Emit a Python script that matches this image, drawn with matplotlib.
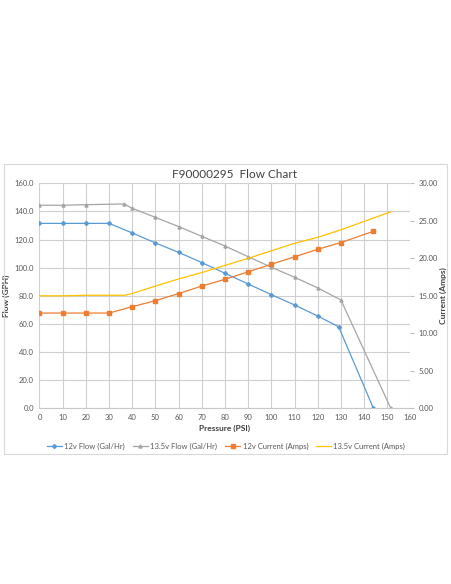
import matplotlib
matplotlib.use("Agg")
import matplotlib.pyplot as plt
from matplotlib.patches import Rectangle
from matplotlib.ticker import FormatStrFormatter, MultipleLocator

plt.rcParams['font.family'] = ['Lato', 'DejaVu Sans']

title = "F90000295  Flow Chart"

p12_flow = [0, 10, 20, 30, 40, 50, 60, 70, 80, 90, 100, 110, 120, 129, 144]
flow12 = [131.5, 131.5, 131.5, 131.5, 124.7, 117.6, 110.9, 103.6, 96.0, 88.4, 80.8, 73.5, 65.6, 58.0, 0.0]

p135_flow = [0, 10, 20, 36.5, 40, 50, 60, 70, 80, 90, 100, 110, 120, 130, 151.5]
flow135 = [144.4, 144.4, 144.8, 145.3, 142.2, 135.8, 129.2, 122.3, 115.4, 107.8, 100.3, 93.2, 85.6, 77.0, 0.0]

p12_cur = [0, 10, 20, 30, 40, 50, 60, 70, 80, 90, 100, 110, 120, 130, 144]
cur12 = [12.7, 12.7, 12.7, 12.7, 13.55, 14.35, 15.3, 16.3, 17.2, 18.2, 19.2, 20.2, 21.2, 22.1, 23.6]

p135_cur = [0, 10, 20, 36.5, 40, 50, 60, 70, 80, 90, 100, 110, 120, 130, 151.5]
cur135 = [15.0, 15.0, 15.07, 15.07, 15.3, 16.3, 17.25, 18.1, 19.05, 20.0, 21.0, 22.0, 22.8, 23.8, 26.2]

labels = ["12v Flow (Gal/Hr)", "13.5v Flow (Gal/Hr)", "12v Current (Amps)", "13.5v Current (Amps)"]
colors = ["#5B9BD5", "#A5A5A5", "#ED7D31", "#FFC000"]

fig = plt.figure(figsize=(4.52, 5.84), dpi=100)
fig.patches.append(Rectangle((4/452, 1-454/584), 443/452, 290/584, transform=fig.transFigure,
                             fill=False, edgecolor="#d9d9d9", linewidth=0.8))

ax = fig.add_axes([39.5/452, 1-408.3/584, 371/452, 225/584])
ax2 = ax.twinx()

tc = "#595959"
ax.set_xlim(0, 160)
ax.set_ylim(0, 160)
ax2.set_ylim(0, 30)
ax.xaxis.set_major_locator(MultipleLocator(10))
ax.yaxis.set_major_locator(MultipleLocator(20))
ax2.yaxis.set_major_locator(MultipleLocator(5))
ax.yaxis.set_major_formatter(FormatStrFormatter("%.1f"))
ax2.yaxis.set_major_formatter(FormatStrFormatter("%.2f"))
ax.grid(True, color="#d0d0d0", linewidth=0.8)
ax.set_axisbelow(True)
for a in (ax, ax2):
    for s in a.spines.values():
        s.set_visible(False)
ax.spines["bottom"].set_visible(True)
ax.spines["bottom"].set_color("#c8c8c8")
ax.tick_params(axis="both", length=0, labelsize=5.5, labelcolor=tc, pad=4)
ax2.tick_params(axis="y", length=3, color="#bfbfbf", labelsize=5.5, labelcolor=tc, pad=3)

l1, = ax.plot(p12_flow, flow12, color=colors[0], lw=0.9, marker="D", ms=2, label=labels[0])
l2, = ax.plot(p135_flow, flow135, color=colors[1], lw=0.9, marker="^", ms=2.2, label=labels[1])
l3, = ax2.plot(p12_cur, cur12, color=colors[2], lw=0.9, marker="s", ms=2.6, label=labels[2])
l4, = ax2.plot(p135_cur, cur135, color=colors[3], lw=0.9, label=labels[3])

ax.set_xlabel("Pressure (PSI)", fontsize=6, fontweight="bold", color="#404040")
ax.xaxis.set_label_coords((225-39.5)/371, -(425-408.3)/225)
ax.set_ylabel("Flow (GPH)", fontsize=6, fontweight="bold", color="#404040")
ax.yaxis.set_label_coords((10-39.5)/371, 0.5)
ax2.set_ylabel("Current (Amps)", fontsize=6, fontweight="bold", color="#404040")
ax2.yaxis.set_label_coords((440-39.5)/371, 0.5)

fig.text(235/452, 1-175/584, title, ha="center", va="center", fontsize=8.5, color="#404040")

fig.legend(handles=[l1, l2, l3, l4], loc="center", bbox_to_anchor=(226/452, 1-446/584),
           ncol=4, fontsize=5.5, frameon=False, handlelength=2.0, columnspacing=1.0,
           handletextpad=0.3, labelcolor=tc)

fig.savefig("out.png", dpi=100)
